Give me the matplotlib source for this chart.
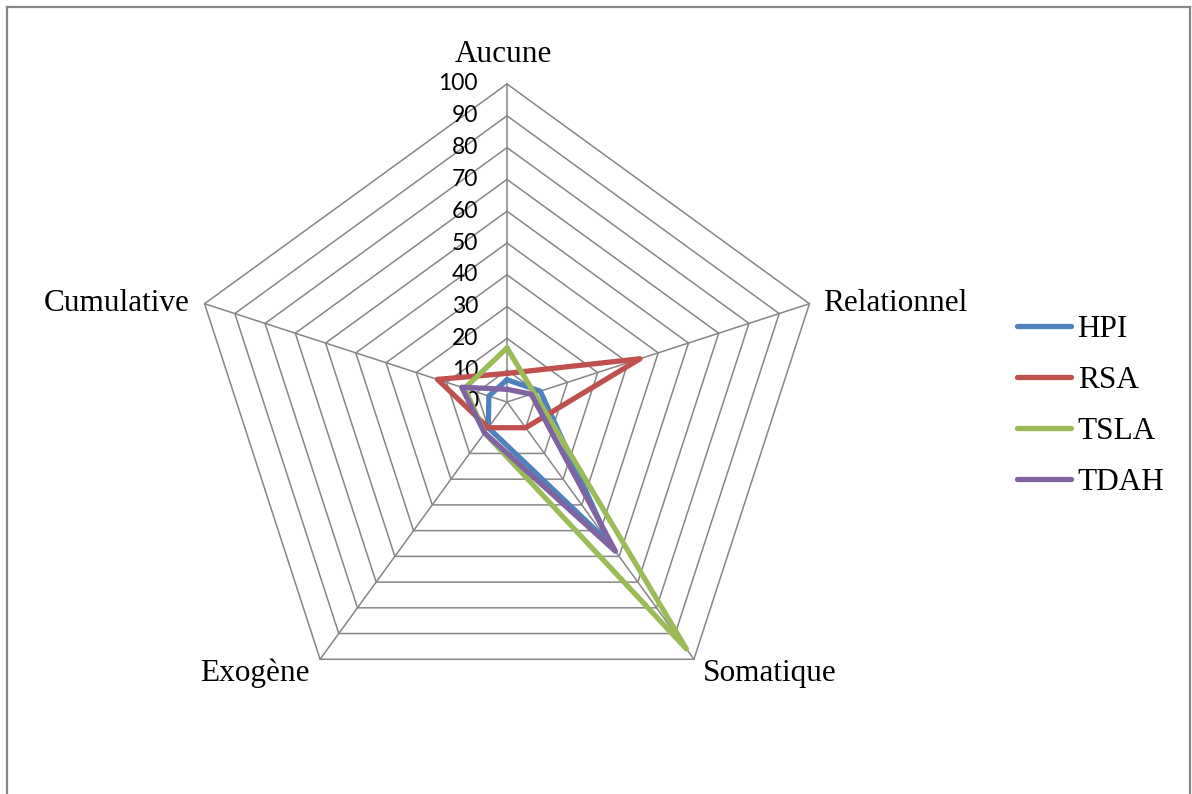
import numpy as np
import matplotlib
matplotlib.use("Agg")
import matplotlib.pyplot as plt
from matplotlib.lines import Line2D

# ---- data ----
categories = ["Aucune", "Relationnel", "Somatique", "Exogène", "Cumulative"]
series_names = ["HPI", "RSA", "TSLA", "TDAH"]
hpi = [7, 11, 55, 10, 6]
rsa = [9, 44, 10, 10, 23]
tsla = [17, 9, 96, 12, 14]
tdah = [4, 8, 58, 12, 15]
ticks = [0, 10, 20, 30, 40, 50, 60, 70, 80, 90, 100]
colors = ["#4F81BD", "#C0504D", "#9BBB59", "#8064A2"]
series_values = [hpi, rsa, tsla, tdah]

W, H = 1192, 794
DPI = 100
fig = plt.figure(figsize=(W / DPI, H / DPI), dpi=DPI)
ax = fig.add_axes([0, 0, 1, 1])
ax.set_axis_off()

# pixel geometry -> data limits
cx, cy = 507, 402          # centre in pixels (from top)
scale = 3.18               # pixels per unit
ax.set_xlim(-cx / scale, (W - cx) / scale)
ax.set_ylim(-(H - cy) / scale, cy / scale)

n = len(categories)
angles = np.pi / 2 - np.arange(n) * 2 * np.pi / n
ux, uy = np.cos(angles), np.sin(angles)

grid_col = "#868686"
# pentagon grid
for t in ticks[1:]:
    xs = np.append(ux * t, ux[0] * t)
    ys = np.append(uy * t, uy[0] * t)
    ax.plot(xs, ys, color=grid_col, lw=1.1, zorder=1)
# spokes
rmax = ticks[-1]
for i in range(n):
    ax.plot([0, ux[i] * rmax], [0, uy[i] * rmax], color=grid_col, lw=1.1, zorder=1)

# tick labels
for t in ticks:
    ax.annotate(str(t), (0, t), xytext=(-29 * 0.72, 0), textcoords="offset points",
                ha="right", va="center", fontsize=16.5, family="Lato", color="black")

# category labels (offsets in pixels -> points)
offsets = [(-4, 30, "center", "center"),
           (14, 0, "left", "center"),
           (9, -14, "left", "center"),
           (-10, -14, "right", "center"),
           (-15, 0, "right", "center")]
for i, cat in enumerate(categories):
    dx, dy, ha, va = offsets[i]
    ax.annotate(cat, (ux[i] * rmax, uy[i] * rmax), xytext=(dx * 0.72, dy * 0.72),
                textcoords="offset points", ha=ha, va=va,
                fontsize=22.5, family="Liberation Serif", color="black")

# series
handles = []
for name, vals, col in zip(series_names, series_values, colors):
    v = np.array(vals, dtype=float)
    xs = np.append(ux * v, ux[0] * v[0])
    ys = np.append(uy * v, uy[0] * v[0])
    ax.plot(xs, ys, color=col, lw=3.8, solid_joinstyle="round",
            solid_capstyle="round", zorder=3)
    handles.append(Line2D([], [], color=col, lw=3.8, solid_capstyle="round"))

leg = fig.legend(handles, series_names, loc="center left",
                 bbox_to_anchor=(1017 / W, (H - 406) / H),
                 frameon=False, borderpad=0, borderaxespad=0,
                 handlelength=1.74, handletextpad=0.2, labelspacing=0.71,
                 prop={"family": "Liberation Serif", "size": 22.5})

# outer frame
frame_col = "#868686"
fig.add_artist(Line2D([6.5 / W, 6.5 / W], [0, 1 - 6.5 / H], color=frame_col, lw=1.6,
                      transform=fig.transFigure))
fig.add_artist(Line2D([6.5 / W, 1190 / W], [1 - 6.5 / H, 1 - 6.5 / H], color=frame_col, lw=1.6,
                      transform=fig.transFigure))
fig.add_artist(Line2D([1190 / W, 1190 / W], [0, 1 - 6.5 / H], color=frame_col, lw=1.6,
                      transform=fig.transFigure))

fig.savefig("out.png", dpi=DPI, facecolor="white")
